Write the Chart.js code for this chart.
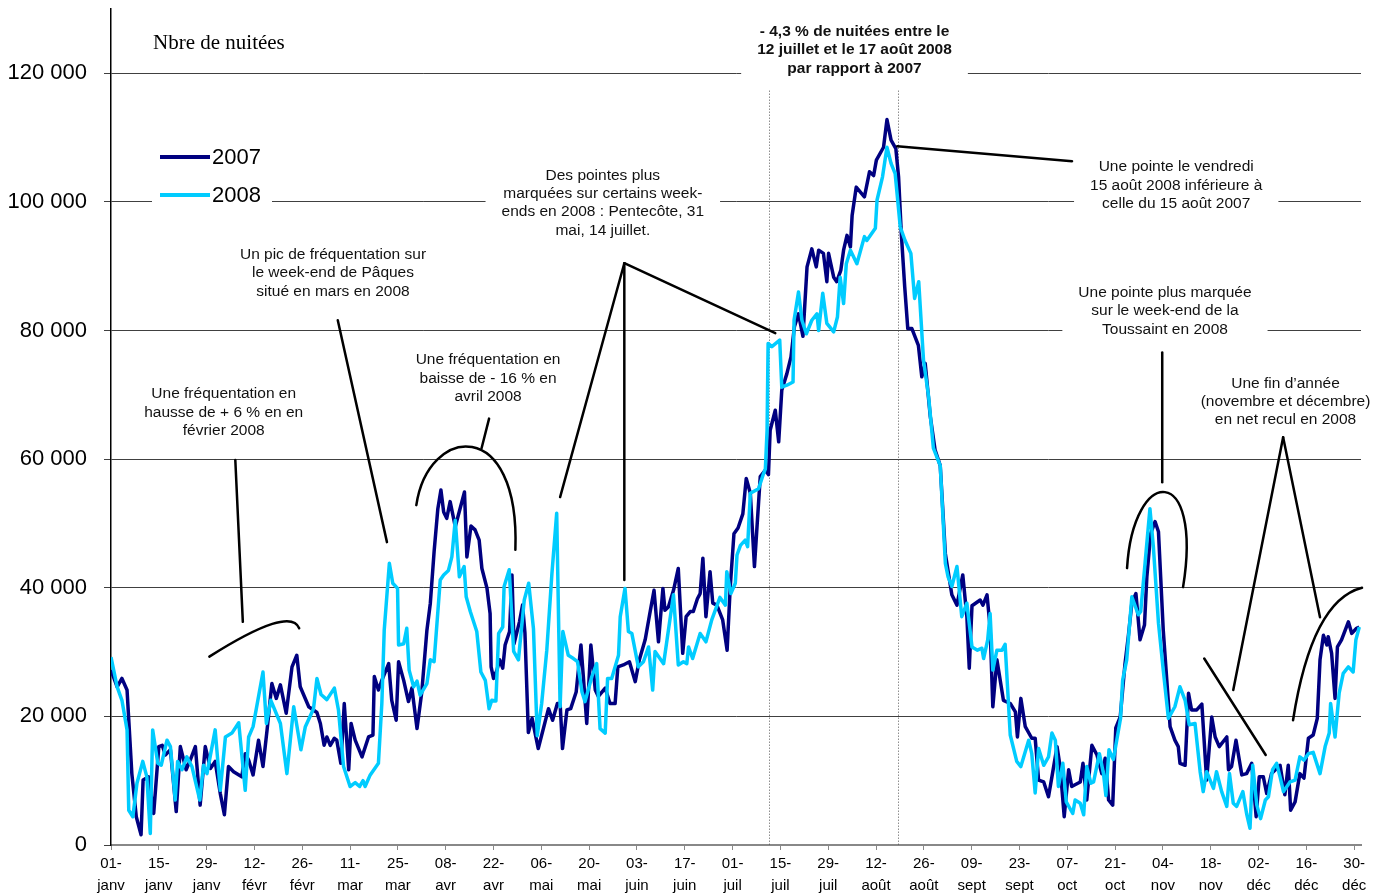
<!DOCTYPE html>
<html lang="fr">
<head>
<meta charset="utf-8">
<title>Nuitées 2007 - 2008</title>
<script src="https://cdn.jsdelivr.net/npm/chart.js@4.4.1/dist/chart.umd.min.js"></script>
<style>
  html, body { margin: 0; padding: 0; background: #fff; }
</style>
</head>
<body>
<canvas id="nuitees" width="1389" height="895"></canvas>
<script>
// [jour depuis le 1er janvier, nombre de nuitées]
var serie2007 = [[0,27200],[1.8,24600],[3.2,25900],[4.7,24100],[6.1,11100],[7.4,4400],[8.8,1600],[9.4,10100],[11,10600],[12.5,4900],[14,15300],[15,15500],[15.9,14000],[17.4,14800],[19.1,5200],[20.3,15300],[22,11700],[23.2,13200],[24.7,15300],[26.1,6200],[27.6,15300],[29.1,11900],[30.5,13000],[32,8000],[33.2,4700],[34.4,12200],[35.9,11400],[38.3,10600],[39.3,14200],[40.3,13200],[41.6,10900],[43.2,16300],[44.5,12200],[45.7,17900],[47.1,25100],[48.4,22800],[49.6,24900],[51.3,20500],[53,27700],[54.4,29500],[55.4,24600],[57.9,21500],[60.3,20600],[61.3,18900],[62.4,15500],[63.2,16800],[64.2,15500],[65.4,16600],[66.1,16300],[67.3,12700],[68.3,22000],[69.6,11700],[70.3,18900],[71.5,16300],[73.5,13700],[75.4,16800],[76.7,17100],[77.1,26200],[78.3,24100],[79.3,25600],[81.3,28200],[82.2,22500],[83.5,19400],[84.2,28500],[85.7,25600],[87.1,22300],[88.1,24400],[89.6,18100],[91,23800],[92.5,33400],[93.5,37600],[94.6,45600],[95.7,52300],[96.6,55200],[97.4,51800],[98.3,50800],[99.3,53400],[100.8,49500],[103.5,54900],[104.2,44800],[105.4,49600],[106.6,49000],[107.8,47400],[108.6,43000],[110.1,39900],[111,36000],[111.3,27700],[112,25900],[113,27200],[113.8,28800],[114.7,27500],[115.4,31100],[116.7,33200],[117.4,42000],[118,31300],[119.6,34700],[120.5,37300],[121.2,33000],[122.2,17500],[123.3,19700],[125.1,15000],[128.1,21200],[129.3,19400],[130.7,22000],[131.5,22000],[132.2,15000],[133.5,21000],[134.6,21200],[136.2,23800],[137.6,31100],[138.3,26200],[139.3,18900],[140.5,31100],[141.8,24100],[142.7,23100],[144.7,24400],[146.1,22000],[147.6,22000],[148.4,27700],[150,28000],[151.8,28500],[153.5,25400],[154.7,28800],[156.4,31900],[157.7,35800],[159,39600],[160.3,31600],[161.6,39900],[162.2,36500],[163.2,37000],[164.7,39600],[166.1,43000],[167.4,29800],[168.4,35500],[169.6,36300],[170.5,36300],[171.7,38300],[172.5,39100],[173.3,44600],[174.2,35500],[175.4,42500],[176.2,37600],[177.4,37300],[179.1,35000],[180.4,30300],[181.3,40000],[182.4,48400],[183.6,49300],[185,51500],[186,57000],[187.2,54700],[188.4,43300],[190.1,57300],[191.6,58300],[192.5,57600],[193,64500],[194.5,67600],[195.5,62700],[196.4,70700],[197.9,73300],[199.1,75900],[200.1,80600],[201.3,82600],[202.6,79100],[203.8,89900],[205.2,92700],[206.5,89900],[207.2,92500],[208.6,92000],[209.6,87600],[210.1,92000],[211.6,88300],[212.5,87600],[213.7,89400],[214.5,92500],[215.5,94800],[216.5,93000],[217,97900],[218.2,102300],[220.6,100800],[222.1,104700],[223.3,104100],[224.1,106500],[226.2,108500],[227.2,112800],[228.4,109600],[229.8,108300],[230.6,103900],[231.4,95100],[232.4,86800],[233.3,80300],[234.5,80300],[236.4,77700],[237.4,72800],[238.4,74900],[239.9,66600],[241.3,61400],[242.8,59000],[244.3,45300],[246.2,38900],[247.7,37300],[249.4,42000],[250.6,35500],[251.3,27500],[252.1,37200],[254.5,38100],[255.3,37300],[256.5,38900],[257.4,33900],[258.2,21500],[259.4,28800],[261.3,22500],[263.3,22000],[264.8,20700],[265.4,16800],[266.4,22800],[267.7,18400],[269.6,16600],[270.6,16600],[271.6,10100],[273.1,9800],[274.5,7500],[275.5,10600],[277,15300],[277.9,12200],[279.1,4400],[280.4,11700],[281.3,9100],[283.8,9800],[284.6,12700],[285.7,7000],[287.2,15500],[288.7,14000],[290.1,11100],[291.1,13500],[292.1,7000],[293.3,6200],[294.2,18200],[295.5,19900],[296.9,28200],[297.9,32600],[298.9,37600],[300.1,39100],[301.3,31900],[302.6,34200],[303.3,41700],[304.4,48400],[305.7,50300],[306.7,48700],[308.1,33400],[310.1,18400],[311.5,16300],[312.5,15300],[313,12700],[314.5,12400],[315.5,23600],[316.4,21000],[317.9,21000],[319.4,21900],[320.8,10100],[322.3,19900],[323.3,16800],[324.5,15300],[326.7,16800],[327.2,11700],[328.1,12200],[329.4,16300],[331.1,10900],[332.5,11100],[334,12700],[335.3,4400],[336.2,10600],[337.4,10600],[338.4,8000],[339.8,11100],[342.3,12400],[343.7,7800],[344.7,12400],[345.4,5400],[346.7,6700],[348.1,11100],[349.3,10400],[350.6,16600],[352,17100],[353.2,19700],[354,28800],[355,32600],[356,31100],[356.4,32400],[357.4,29800],[358.4,22800],[359.1,30800],[360.3,31900],[362.3,34700],[363.3,32900],[364.7,33700],[365.5,33900]];

var serie2008 = [[0,29200],[1.8,24600],[3.2,22500],[4.7,17900],[5.2,5400],[6.4,4400],[7.6,9600],[9.3,13000],[10.5,10600],[11.5,1800],[12.2,17900],[13.7,12700],[14.7,12400],[16.4,16300],[17.4,15300],[18.8,7000],[19.5,13000],[20.8,11700],[22.2,13700],[23.7,12200],[26,7000],[27.1,12400],[28.1,11100],[30.5,17900],[32,8500],[33.5,16800],[35.4,17400],[37.4,19000],[39.3,8500],[40.3,16800],[41.6,18400],[44.5,26900],[45.5,18900],[46.8,22500],[49.6,18900],[51.5,11100],[53.5,21500],[55.6,14800],[56.9,18400],[59.3,21200],[60.3,25900],[61.5,23400],[63.2,22600],[65.4,24400],[66.6,21000],[68.1,12200],[70,9100],[71.5,9700],[72.8,9100],[73.8,10000],[74.4,9100],[75.9,10900],[78.3,12700],[79.3,22000],[80,33400],[81.5,43800],[82.5,40700],[83.9,39900],[84.2,31100],[85.7,31300],[86.6,33700],[87.3,27200],[88.6,24600],[89.6,25500],[90.5,23300],[92.5,25100],[93.5,28800],[94.6,28500],[96.4,41200],[97.4,42000],[98.8,42700],[99.8,44800],[100.8,50500],[102,41700],[103.4,43300],[104,38600],[105.2,36300],[107.1,33200],[108.3,26900],[109.6,25600],[110.7,21200],[111.5,22500],[112.7,22400],[113.5,32900],[114.7,33900],[115.1,40200],[116.6,42800],[117.9,30100],[119.3,28800],[121,38100],[122.3,40700],[123.7,33600],[124.8,17000],[126.1,22000],[127.6,30300],[129.1,42200],[130.5,51600],[131.5,21500],[132.3,33200],[133.9,29500],[135.4,29000],[136.6,28500],[137.9,23800],[138.8,22300],[140.8,26200],[142.2,28200],[143.2,18100],[144.7,17400],[145.4,25900],[146.6,25900],[148.6,29500],[149.1,35500],[150.5,39900],[151.5,33200],[152.5,32900],[154.4,27700],[155.9,28500],[157.4,30800],[158.6,24100],[159.3,30100],[161.8,28200],[164.7,38900],[166.1,28000],[167.6,28500],[168.6,28200],[169.1,30800],[170.3,29000],[172.5,32900],[174.2,31600],[175.9,35000],[178.3,38500],[179.9,37300],[180.3,42500],[181.5,39100],[182.8,40700],[183.3,45100],[184.3,46600],[185.7,47400],[186.4,46400],[187.2,54700],[189.6,55400],[190.9,57500],[191.6,58500],[192.1,64500],[192.4,78000],[193.5,77500],[195.8,78500],[196.4,71200],[197.9,71500],[199.7,72000],[200,81600],[201.3,86000],[202.3,81600],[203.6,79500],[205.2,81600],[206.7,82600],[207.2,80000],[208.4,85800],[209.6,81100],[211.6,79800],[212.7,82100],[213.5,88300],[214.5,84200],[215.3,90400],[216.5,92500],[218.4,90400],[220.6,94600],[221.3,94000],[223.8,95900],[224.3,100300],[225.9,103900],[227.2,108500],[228.4,106000],[229.6,104400],[231.1,96100],[232.5,94000],[234.2,92000],[235.3,85000],[236.5,87600],[237.9,75400],[239.4,69700],[240.8,61700],[242.8,59000],[244.3,43800],[245.1,41700],[246.2,40200],[247.7,43300],[249.1,35500],[250.6,37600],[252.1,30800],[253.7,30300],[255,30600],[255.5,29000],[256.7,31900],[257.4,36000],[258.2,27200],[259.4,30300],[260.9,30300],[261.8,31200],[263.3,17100],[265.2,13000],[266.4,12200],[268.7,16300],[269.6,14200],[270.6,8100],[271.6,15000],[273.1,12400],[274.5,13700],[275.5,17400],[276.5,16300],[277.4,9100],[278.7,12700],[279.7,6700],[281.6,4900],[282.3,7000],[283.8,6500],[284.8,4700],[285.7,12200],[286.9,9600],[287.7,9800],[289.4,14200],[290.6,11100],[291.3,7700],[292.2,14800],[293.5,13300],[295.6,19700],[296.2,25600],[297.4,28800],[298.9,38600],[300.8,35800],[301.5,36300],[302.8,44000],[304.2,52300],[305.2,46400],[306.7,34500],[308.1,27200],[309.6,19700],[311.5,21500],[313,24600],[314.5,22500],[315.7,18700],[317.4,18900],[318.9,11400],[319.8,8300],[320.8,11400],[322.8,8800],[323.7,11400],[325.2,8300],[326.7,6000],[327.5,11100],[328.6,6500],[329.6,6000],[331.4,8300],[332.5,4900],[333.5,2600],[334.3,12400],[335.5,6200],[336.6,4100],[338,7000],[338.9,7500],[340.1,11700],[341.3,12700],[342.3,10600],[343.3,8300],[345.2,9800],[346.7,10100],[348.1,13700],[349.3,13200],[350.6,14200],[352,14400],[354,11100],[355.5,15300],[356.7,17400],[357.1,22000],[358.4,16800],[359.6,23600],[360.8,26700],[362.3,27700],[363.7,26900],[364.5,31900],[365.5,33900]];

var tickDays = [0, 14, 28, 42, 56, 70, 84, 98, 112, 126, 140, 154, 168, 182, 196, 210, 224, 238, 252, 266, 280, 294, 308, 322, 336, 350, 364];
var tickLabels = [['01-','janv'],['15-','janv'],['29-','janv'],['12-','févr'],['26-','févr'],['11-','mar'],['25-','mar'],['08-','avr'],['22-','avr'],['06-','mai'],['20-','mai'],['03-','juin'],['17-','juin'],['01-','juil'],['15-','juil'],['29-','juil'],['12-','août'],['26-','août'],['09-','sept'],['23-','sept'],['07-','oct'],['21-','oct'],['04-','nov'],['18-','nov'],['02-','déc'],['16-','déc'],['30-','déc']];
var yTicks = [0, 20000, 40000, 60000, 80000, 100000, 120000];

// période du 12 juillet au 17 août (traits pointillés)
var periodDays = [192.6, 230.3];
var periodTop = 117300;

// textes des commentaires : [jour, nuitées] du centre de la 1re ligne
var notes = [
  { at: [217.7, 126500], bold: true, box: true, lines: ['- 4,3 % de nuitées entre le', '12 juillet et le 17 août 2008', 'par rapport à 2007'] },
  { at: [144.0, 104150], box: true, lines: ['Des pointes plus', 'marquées sur certains week-', 'ends en 2008 : Pentecôte, 31', 'mai, 14 juillet.'] },
  { at: [311.9, 105400], box: true, lines: ['Une pointe le vendredi', '15 août 2008 inférieure à', 'celle du 15 août 2007'] },
  { at: [308.6, 85900], box: true, lines: ['Une pointe plus marquée', 'sur le week-end de la', 'Toussaint en 2008'] },
  { at: [65.0, 91800], lines: ['Un pic de fréquentation sur', 'le week-end de Pâques', 'situé en mars en 2008'] },
  { at: [33.0, 70100], lines: ['Une fréquentation en', 'hausse de + 6 % en en', 'février 2008'] },
  { at: [110.4, 75400], lines: ['Une fréquentation en', 'baisse de - 16 % en', 'avril 2008'] },
  { at: [343.9, 71800], lines: ['Une fin d\u2019année', '(novembre et décembre)', 'en net recul en 2008'] }
];

// traits de rappel
var leaders = [
  [[36.4, 59850], [38.6, 34700]],
  [[66.4, 81600], [80.8, 47100]],
  [[110.7, 66300], [108.5, 61700]],
  [[150.3, 90470], [131.5, 54100]],
  [[150.3, 90470], [150.3, 41200]],
  [[150.3, 90470], [194.5, 79600]],
  [[230.2, 108660], [281.4, 106330]],
  [[307.8, 76600], [307.8, 56400]],
  [[343.2, 63400], [328.6, 24100]],
  [[343.2, 63400], [354.0, 35400]],
  [[320.1, 29000], [338.1, 14000]]
];

// arcs : départ, contrôle 1, contrôle 2, arrivée
var arcs = [
  [[28.8, 29300], [44.6, 34600], [53.4, 36100], [55.1, 33700]],
  [[89.4, 52850], [92.9, 65300], [119.8, 66800], [118.4, 45900]],
  [[297.5, 43060], [299.3, 59070], [319.8, 59540], [313.9, 40100]],
  [[346.1, 19400], [349.8, 31900], [356.6, 38700], [366.3, 40000]]
];

var sans = "'Liberation Sans', Arial, sans-serif";

function milliers(v) {
  return String(v).replace(/\B(?=(\d{3})+(?!\d))/g, ' ');
}

function toPoints(serie) {
  return serie.map(function (p) { return { x: p[0], y: p[1] }; });
}

var noteFont = 15.5, noteLine = 18.4;

function noteWidth(ctx, n) {
  ctx.font = (n.bold ? 'bold ' : '') + noteFont + 'px ' + sans;
  var w = 0;
  n.lines.forEach(function (l) { w = Math.max(w, ctx.measureText(l).width); });
  return w;
}

var annotationsPlugin = {
  id: 'annotations',
  beforeDatasetsDraw: function (chart) {
    var ctx = chart.ctx, xs = chart.scales.x, ys = chart.scales.y;
    ctx.save();
    // pointillés de la période
    ctx.strokeStyle = '#555';
    ctx.lineWidth = 1;
    ctx.setLineDash([1, 2]);
    periodDays.forEach(function (d) {
      var x = Math.round(xs.getPixelForValue(d)) + 0.5;
      ctx.beginPath();
      ctx.moveTo(x, ys.getPixelForValue(periodTop));
      ctx.lineTo(x, ys.getPixelForValue(0));
      ctx.stroke();
    });
    ctx.setLineDash([]);
    // fonds blancs des encadrés
    ctx.fillStyle = '#fff';
    notes.forEach(function (n) {
      if (!n.box) return;
      var w = noteWidth(ctx, n) + 32;
      var cx = xs.getPixelForValue(n.at[0]);
      var cy = ys.getPixelForValue(n.at[1]);
      ctx.fillRect(cx - w / 2, cy - 11, w, (n.lines.length - 1) * noteLine + 22);
    });
    // fond de la légende
    ctx.fillRect(chart.chartArea.left + 41, chart.chartArea.top + 132, 120, 74);
    ctx.restore();
  },
  afterDatasetsDraw: function (chart) {
    var ctx = chart.ctx, xs = chart.scales.x, ys = chart.scales.y;
    function X(p) { return xs.getPixelForValue(p[0]); }
    function Y(p) { return ys.getPixelForValue(p[1]); }
    ctx.save();
    ctx.strokeStyle = '#000';
    ctx.lineWidth = 2.5;
    ctx.lineCap = 'round';
    leaders.forEach(function (s) {
      ctx.beginPath();
      ctx.moveTo(X(s[0]), Y(s[0]));
      ctx.lineTo(X(s[1]), Y(s[1]));
      ctx.stroke();
    });
    arcs.forEach(function (a) {
      ctx.beginPath();
      ctx.moveTo(X(a[0]), Y(a[0]));
      ctx.bezierCurveTo(X(a[1]), Y(a[1]), X(a[2]), Y(a[2]), X(a[3]), Y(a[3]));
      ctx.stroke();
    });
    // textes
    ctx.fillStyle = '#111';
    ctx.textAlign = 'center';
    ctx.textBaseline = 'middle';
    notes.forEach(function (n) {
      ctx.font = (n.bold ? 'bold ' : '') + noteFont + 'px ' + sans;
      var cx = X(n.at), cy = Y(n.at);
      n.lines.forEach(function (l, i) { ctx.fillText(l, cx, cy + i * noteLine); });
    });
    // titre de l'axe
    ctx.textAlign = 'left';
    ctx.font = "21px 'Liberation Serif', 'Times New Roman', serif";
    ctx.fillStyle = '#000';
    ctx.fillText('Nbre de nuitées', chart.chartArea.left + 42, chart.chartArea.top + 34);
    // légende
    var lx = chart.chartArea.left + 49, ly = chart.chartArea.top + 148;
    ctx.font = '22px ' + sans;
    chart.data.datasets.forEach(function (ds, i) {
      var y = ly + i * 38;
      ctx.strokeStyle = ds.borderColor;
      ctx.lineWidth = 4;
      ctx.lineCap = 'butt';
      ctx.beginPath();
      ctx.moveTo(lx, y);
      ctx.lineTo(lx + 50, y);
      ctx.stroke();
      ctx.fillStyle = '#000';
      ctx.fillText(ds.label, lx + 52, y + 1);
    });
    ctx.restore();
  }
};

var ctx = document.getElementById('nuitees').getContext('2d');
var chart = new Chart(ctx, {
  type: 'line',
  data: {
    datasets: [
      {
        label: '2007',
        data: toPoints(serie2007),
        borderColor: '#000080',
        borderWidth: 3.5,
        pointRadius: 0,
        borderJoinStyle: 'round',
        fill: false,
        order: 2
      },
      {
        label: '2008',
        data: toPoints(serie2008),
        borderColor: '#00CCFF',
        borderWidth: 3.5,
        pointRadius: 0,
        borderJoinStyle: 'round',
        fill: false,
        order: 1
      }
    ]
  },
  options: {
    responsive: false,
    animation: false,
    layout: { padding: { top: 9, right: 28, bottom: 0, left: 0 } },
    plugins: {
      legend: { display: false },
      tooltip: { enabled: false }
    },
    scales: {
      x: {
        type: 'linear',
        min: 0,
        max: 366,
        afterBuildTicks: function (scale) {
          scale.ticks = tickDays.map(function (d) { return { value: d }; });
        },
        afterFit: function (scale) {
          scale.height = 50;
          scale.paddingLeft = 0;
          scale.paddingRight = 0;
        },
        ticks: {
          autoSkip: false,
          maxRotation: 0,
          padding: 3,
          color: '#000',
          font: { family: sans, size: 15, lineHeight: 1.45 },
          callback: function (value, index) { return tickLabels[index]; }
        },
        grid: {
          drawOnChartArea: false,
          drawTicks: true,
          tickLength: 5,
          color: '#888'
        },
        border: { color: '#888', width: 2 }
      },
      y: {
        min: 0,
        max: 130000,
        afterBuildTicks: function (scale) {
          scale.ticks = yTicks.map(function (v) { return { value: v }; });
        },
        afterFit: function (scale) {
          scale.width = 111;
          scale.paddingTop = 0;
          scale.paddingBottom = 0;
        },
        ticks: {
          padding: 17,
          color: '#000',
          font: { family: sans, size: 22 },
          callback: function (value) { return milliers(value); }
        },
        grid: {
          color: function (c) { return c.tick && c.tick.value === 0 ? 'rgba(0,0,0,0)' : '#404040'; },
          tickColor: '#404040',
          tickLength: 7,
          lineWidth: 1
        },
        border: { color: '#000', width: 1.5 }
      }
    }
  },
  plugins: [annotationsPlugin]
});
</script>
</body>
</html>
